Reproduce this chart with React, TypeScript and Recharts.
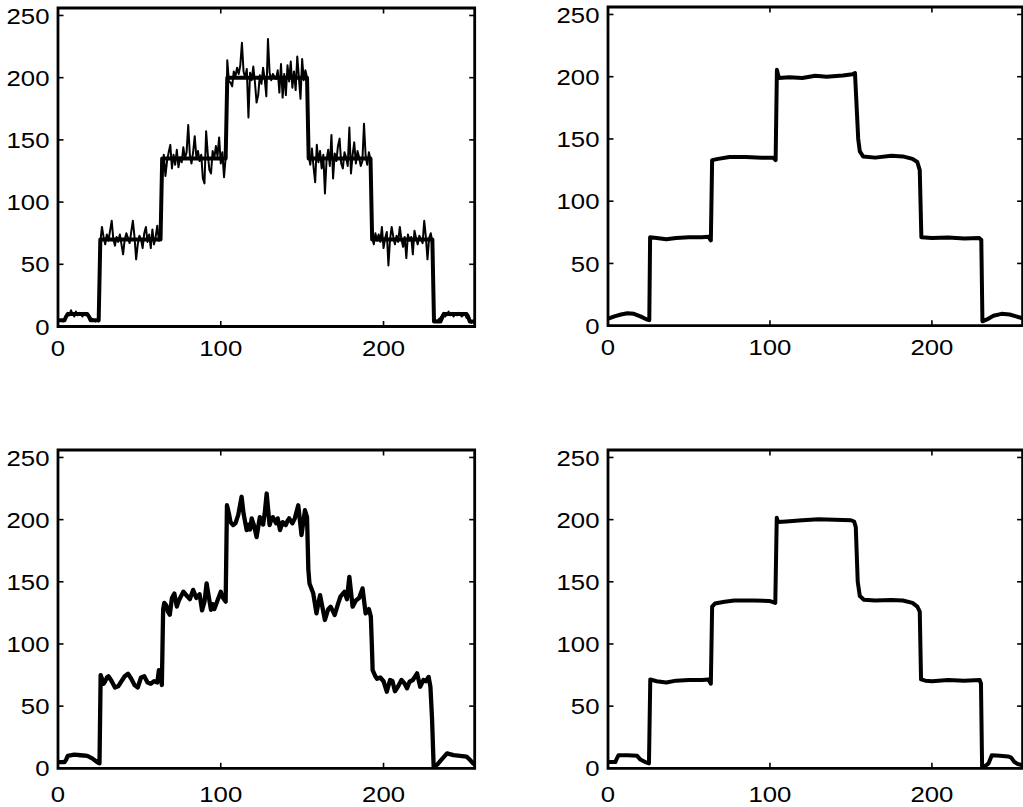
import React from 'react';
import { LineChart, Line, XAxis, YAxis, ReferenceArea } from 'recharts';

// ---------- axis ticks ----------
const X_TICKS = [0, 100, 200];
const Y_TICKS = [0, 50, 100, 150, 200, 250];
const X_DOMAIN = [0, 256];
const Y_DOMAIN = [0, 256];

// ---------- top-left: noisy observation (samples 1..256) ----------
const NOISY = [
  5, 5, 4, 6, 8, 11, 9, 13, 10, 8, 12, 9, 11, 10, 8, 11, 9, 10, 8, 7, 6, 5, 4, 5, 4,
  68, 80, 72, 66, 74, 69, 77, 85, 70, 65, 72, 68, 74, 66, 58, 70, 75, 71, 67, 76,
  85, 72, 54, 66, 73, 70, 63, 75, 80, 68, 74, 63, 78, 66, 72, 81, 69, 74,
  120, 138, 121, 133, 140, 146, 127, 138, 130, 142, 128, 136, 132, 144, 135, 140, 162, 138, 131, 140,
  153, 136, 141, 133, 138, 119, 115, 157, 139, 126, 123, 141, 135, 145, 137, 152, 131, 140, 120, 136,
  214, 197, 196, 193, 205, 201, 208, 203, 210, 228, 205, 200, 207, 168, 204, 198, 209, 196, 180, 186,
  202, 195, 208, 199, 185, 231, 204, 198, 203, 201, 199, 206, 188, 211, 184, 203, 186, 210, 197, 213,
  192, 205, 190, 217, 200, 183, 215, 198, 206, 200,
  137, 130, 143, 128, 116, 146, 132, 141, 127, 138, 107, 134, 142, 129, 154, 119, 139, 133, 145, 151,
  131, 127, 140, 136, 129, 160, 123, 138, 148, 131, 141, 136, 129, 133, 163, 137, 130, 140, 134,
  72, 66, 75, 69, 74, 68, 80, 63, 71, 76, 49, 70, 80, 72, 66, 73, 68, 80, 70, 64,
  72, 55, 74, 69, 72, 58, 77, 71, 66, 73, 70, 67, 85, 72, 54, 71, 75, 68,
  4, 5, 4, 6, 7, 9, 11, 8, 10, 12, 9, 11, 8, 10, 9, 11, 10, 8, 9, 10, 7, 6, 4, 3, 4, 3,
];

// ---------- top-left: clean step signal ----------
const CLEAN_X = [1, 4, 5, 6, 18, 19, 20, 25, 26, 63, 64, 103, 104, 153, 154, 192, 193, 230, 231, 235, 236, 237, 251, 252, 253, 256];
const CLEAN_Y = [5, 5, 8, 10, 10, 8, 5, 5, 70, 70, 135, 135, 200, 200, 135, 135, 70, 70, 4, 4, 7, 10, 10, 8, 4, 4];

// ---------- top-right: smooth estimate ----------
const TR_X = [1, 4, 8, 12, 16, 20, 24, 25.5, 26, 30, 36, 42, 50, 58, 62, 63.5, 64.3, 68, 75, 85, 95, 102, 103.5, 104.3, 105.5, 112, 120, 128, 135, 145, 151, 152.5, 153.3, 154.5, 155.5, 157.5, 165, 175, 182, 188, 191, 192.5, 193.5, 200, 210, 220, 229, 230.5, 231.2, 234, 238, 243, 248, 252, 256];
const TR_Y = [6, 7.5, 9, 10, 9.5, 7.5, 5, 4.5, 71, 70.5, 69.5, 70.5, 71, 71, 71.5, 68.5, 133, 134, 135.5, 135.5, 135, 135, 133, 205.5, 199, 199.5, 199, 200.8, 200, 201, 202, 203, 182, 150, 140, 136, 135, 136.5, 136, 134, 131.5, 125, 71, 70.5, 70.8, 70, 70.5, 69, 3.5, 5, 8, 9.5, 9, 7.5, 6];

// ---------- bottom-left: rough estimate ----------
const BL_X = [1, 4, 5, 6, 10, 14, 18, 21, 24, 25.5, 26.2, 27, 28, 29, 30, 31, 33, 35, 37, 39, 41, 43, 45, 47, 49, 50, 51, 53, 55, 57, 59, 61, 62, 63, 63.8,
  64.6, 65.3, 66.5, 67.5, 68.7, 70, 71.5, 73, 74, 75, 77, 79, 81, 83, 85, 87, 88.5, 90, 91.3, 92.5, 94, 95, 96, 98, 100, 101, 102, 103,
  103.8, 105, 106, 107.6, 109, 110.7, 112.8, 114, 115.9, 117, 118, 119, 120.5, 122, 124, 126, 127, 128.2, 130, 131, 132, 134, 135, 136.4, 138, 140, 141, 142, 144, 145.5, 147.6, 149.6, 151.7, 153,
  153.8, 154.5, 156.8, 158.8, 160, 161, 164, 166, 167.5, 169, 170, 172, 173.5, 176, 177.5, 179, 181, 183, 185, 187.1, 189, 191, 192.2, 192.8,
  193.3, 195, 196, 198, 200, 202, 204, 205.5, 207, 209, 211, 213, 214.4, 216, 218, 220.6, 222.5, 224.5, 226, 227.7, 228.8, 229.8,
  230.8, 233, 236, 239, 243, 247, 251, 253, 255, 256];
const BL_Y = [5, 5, 7, 10, 11, 10.5, 10, 8, 5, 4, 75, 72, 68, 70, 73, 74, 70, 65, 66, 70, 74, 76, 72, 67, 65, 69, 73, 74, 69, 68, 70, 69, 79, 75, 67,
  128, 133, 131, 126, 123.5, 137, 140.5, 130, 134, 137, 142, 139, 136, 143.5, 137, 140, 127, 134, 148.8, 139, 127.5, 132, 128, 135, 142, 138, 136, 134,
  211.6, 205, 198, 195.6, 197, 203.6, 218.4, 205, 191.5, 196, 192, 201, 195, 186, 202, 196, 205, 221, 195.6, 200, 202, 197, 201, 191.5, 198, 195.6, 199, 201, 197, 201, 211.6, 187.6, 207.6, 202,
  160, 148.7, 140.7, 124.6, 133, 139.3, 119.3, 128, 130, 126, 123.3, 132, 138, 142, 136, 154, 130, 135, 137, 144.7, 124.6, 128, 122, 100,
  79, 74, 72, 73, 70, 61.6, 71, 70, 62, 66, 71, 68, 64.3, 69.6, 71, 76.4, 65.6, 71, 70, 73.5, 65.6, 40,
  1, 3, 7.6, 12, 10.6, 10, 9.3, 7, 4, 3];

// ---------- bottom-right: smooth estimate ----------
const BR_X = [1, 4.5, 5.5, 6.5, 12, 18, 20, 23, 25.3, 26.1, 30, 36, 42, 50, 58, 62, 63.5, 64.3, 66, 72, 78, 90, 100, 103.3, 104.2, 105, 110, 120, 130, 140, 150, 152, 153, 154.2, 155.5, 158, 165, 175, 182, 188, 191, 192.5, 193.3, 196, 200, 210, 220, 229.5, 230.3, 231, 233, 235, 237, 242, 247, 249, 251, 253, 256];
const BR_Y = [5, 5, 8, 10.5, 10.5, 10, 7, 5, 4, 71.5, 70, 69, 70.5, 71, 71, 71.5, 68, 130, 132.5, 134, 135, 135, 134.5, 133, 201.5, 198, 198.5, 199.5, 200.3, 200, 199.5, 198.5, 194, 150, 138.5, 135.5, 135, 135.3, 135, 133, 130, 126, 71.5, 70.5, 70, 71, 70.5, 71, 68, 1.3, 2, 4, 10.5, 10, 9.5, 8.5, 5, 3.5, 2.5];

const rows = (xs: number[], ys: number[]) => xs.map((x, i) => ({ x, y: ys[i] }));
const NOISY_ROWS = NOISY.map((y, i) => ({ x: i + 1, y }));

const FONT = '"Liberation Sans", Arial, Helvetica, sans-serif';
const FS = 23;
const SX = 1.12;

type LineSpec = { data: { x: number; y: number }[]; width: number };

function Panel({ plotLeft, plotTop, plotW, plotH, labelGap, lines }: {
  plotLeft: number; plotTop: number; plotW: number; plotH: number; labelGap: number; lines: LineSpec[];
}) {
  const YW = 60, MR = 10, MT = 10, XH = 50;
  const width = YW + plotW + MR;
  const height = MT + plotH + XH;
  const pTop = MT, pBottom = MT + plotH, pLeft = YW, pRight = YW + plotW;

  const XTick = (props: any) => {
    const cx = props.payload.coordinate;
    return (
      <g>
        <line x1={cx} x2={cx} y1={pBottom} y2={pBottom - 5.5} stroke="#000" strokeWidth={1.6} />
        <line x1={cx} x2={cx} y1={pTop} y2={pTop + 5.5} stroke="#000" strokeWidth={1.6} />
        <text x={0} y={0} transform={`translate(${cx},${pBottom + labelGap}) scale(${SX},1)`} textAnchor="middle"
          fontFamily={FONT} fontSize={FS} fill="#000">{props.payload.value}</text>
      </g>
    );
  };
  const YTick = (props: any) => {
    const cy = props.payload.coordinate;
    return (
      <g>
        <line x1={pLeft} x2={pLeft + 5.5} y1={cy} y2={cy} stroke="#000" strokeWidth={1.6} />
        <line x1={pRight} x2={pRight - 5.5} y1={cy} y2={cy} stroke="#000" strokeWidth={1.6} />
        <text x={0} y={0} transform={`translate(${pLeft - 8.5},${cy + 8.2}) scale(${SX},1)`} textAnchor="end"
          fontFamily={FONT} fontSize={FS} fill="#000">{props.payload.value}</text>
      </g>
    );
  };

  return (
    <div style={{ position: 'absolute', left: plotLeft - YW, top: plotTop - MT, width, height }}>
      <LineChart width={width} height={height} margin={{ top: MT, right: MR, left: 0, bottom: 0 }}>
        <XAxis dataKey="x" type="number" domain={X_DOMAIN} ticks={X_TICKS} interval={0} height={XH}
          tick={XTick} tickLine={false} axisLine={false} allowDataOverflow />
        <YAxis dataKey="y" type="number" domain={Y_DOMAIN} ticks={Y_TICKS} interval={0} width={YW}
          tick={YTick} tickLine={false} axisLine={false} allowDataOverflow />
        {lines.map((l, i) => (
          <Line key={i} data={l.data} dataKey="y" type="linear" stroke="#000" strokeWidth={l.width}
            strokeLinejoin="round" strokeLinecap="round" dot={false} activeDot={false} isAnimationActive={false} />
        ))}
        <ReferenceArea x1={0} x2={256} y1={0} y2={256} fill="none" fillOpacity={0} stroke="#000" strokeWidth={2.8} />
      </LineChart>
    </div>
  );
}

export default function App() {
  return (
    <div style={{ position: 'absolute', left: 0, top: 0, width: 1023, height: 807, overflow: 'hidden', background: '#fff' }}>
      <Panel plotLeft={58.3} plotTop={7.5} plotW={416.7} plotH={318.5} labelGap={29.5}
        lines={[{ data: NOISY_ROWS, width: 2 }, { data: rows(CLEAN_X, CLEAN_Y), width: 4 }]} />
      <Panel plotLeft={607.7} plotTop={7} plotW={414.6} plotH={318.7} labelGap={29.5}
        lines={[{ data: rows(TR_X, TR_Y), width: 4 }]} />
      <Panel plotLeft={58.3} plotTop={450} plotW={416.7} plotH={318.3} labelGap={33.4}
        lines={[{ data: rows(BL_X, BL_Y), width: 4.3 }]} />
      <Panel plotLeft={607.7} plotTop={450} plotW={414.6} plotH={318.3} labelGap={33.4}
        lines={[{ data: rows(BR_X, BR_Y), width: 4 }]} />
    </div>
  );
}
